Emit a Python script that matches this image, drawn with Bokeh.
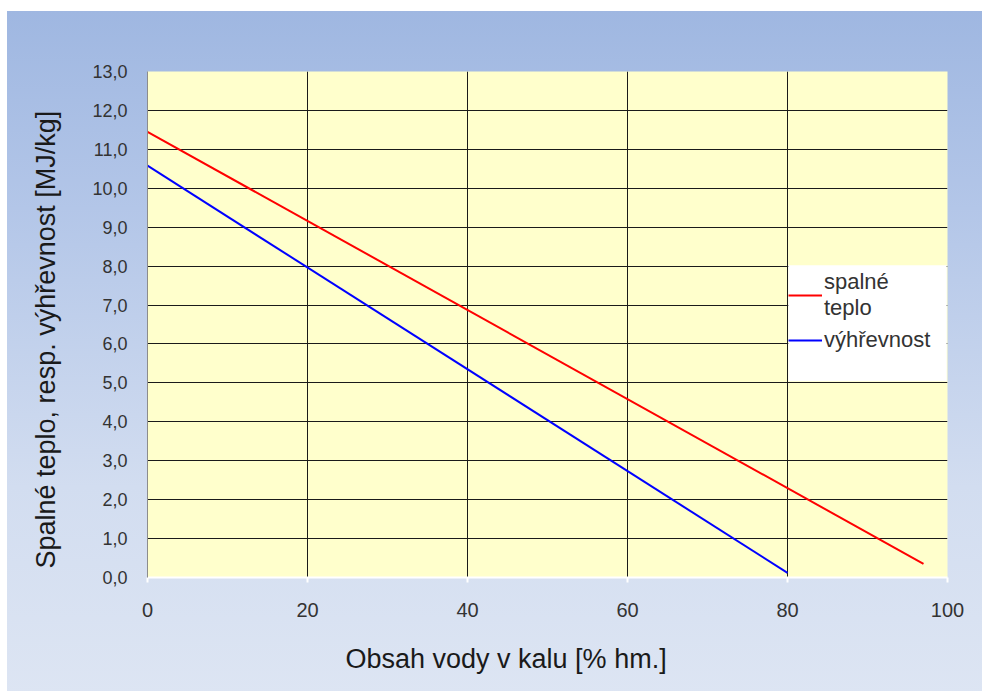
from bokeh.plotting import figure
from bokeh.models import FixedTicker, Legend, LegendItem, Range1d, Title, BoxAnnotation
from bokeh.embed import file_html
from bokeh.resources import INLINE

# data
water_red = [0, 97]
heat_red = [11.45, 0.35]      # spalné teplo
water_blue = [0, 80]
heat_blue = [10.58, 0.12]     # výhřevnost

x_ticks = [0, 20, 40, 60, 80, 100]
y_ticks = list(range(0, 14))
y_tick_labels = ["0,0", "1,0", "2,0", "3,0", "4,0", "5,0", "6,0", "7,0",
                 "8,0", "9,0", "10,0", "11,0", "12,0", "13,0"]
x_title = "Obsah vody v kalu [% hm.]"
y_title = "Spalné teplo, resp. výhřevnost [MJ/kg]"

FONT = "Liberation Sans"

p = figure(frame_width=800, frame_height=506,
           min_border_left=147, min_border_top=71, min_border_right=35, min_border_bottom=114,
           x_range=Range1d(0, 100), y_range=Range1d(0, 13),
           output_backend="svg", toolbar_location=None)

p.styles = {"background": ("linear-gradient(to right, #ffffff 0px, #ffffff 7px, rgba(255,255,255,0) 7px), "
                           "linear-gradient(to bottom, #ffffff 0px, #ffffff 11px, #9fb7e1 11px, "
                           "#b3c6e8 30%, #d2ddf0 70%, #dde5f3 100%)")}
p.border_fill_color = None
p.background_fill_color = "#ffffcc"
p.outline_line_color = None

p.xaxis.ticker = FixedTicker(ticks=x_ticks)
p.yaxis.ticker = FixedTicker(ticks=y_ticks)
p.yaxis.major_label_overrides = {t: l for t, l in zip(y_ticks, y_tick_labels)}

p.xgrid.grid_line_color = "#1a1a1a"
p.ygrid.grid_line_color = "#1a1a1a"
p.xgrid.grid_line_width = 1
p.ygrid.grid_line_width = 1

p.xaxis.axis_line_color = "white"
p.xaxis.axis_line_width = 2
p.xaxis.major_tick_line_color = "white"
p.xaxis.major_tick_line_width = 2
p.xaxis.major_tick_out = 5
p.xaxis.major_tick_in = 0
p.xaxis.minor_tick_line_color = None
p.xaxis.major_label_standoff = 20
p.xaxis.major_label_text_font = FONT
p.xaxis.major_label_text_font_size = "20px"
p.xaxis.major_label_text_color = "#333333"

p.yaxis.axis_line_color = "#8c8c8c"
p.yaxis.major_tick_line_color = None
p.yaxis.minor_tick_line_color = None
p.yaxis.major_label_standoff = 14
p.yaxis.major_label_text_font = FONT
p.yaxis.major_label_text_font_size = "18px"
p.yaxis.major_label_text_color = "#333333"

xt = Title(text=x_title, align="left", offset=198, standoff=44,
           text_font=FONT, text_font_size="27px", text_font_style="normal", text_color="#1a1a1a")
p.add_layout(xt, "below")
yt = Title(text=y_title, align="left", offset=9, standoff=54, vertical_align="top",
           text_font=FONT, text_font_size="27px", text_font_style="normal", text_color="#1a1a1a")
p.add_layout(yt, "left")

r_red = p.line(water_red, heat_red, line_color="#ff0000", line_width=2)
r_blue = p.line(water_blue, heat_blue, line_color="#0000ff", line_width=2)

legend_box = BoxAnnotation(left=80.1, right=99.9, bottom=5.04, top=8.02,
                           fill_color="white", fill_alpha=1, line_color=None)
p.add_layout(legend_box)

legend = Legend(items=[LegendItem(label="spalné\nteplo", renderers=[r_red]),
                       LegendItem(label="výhřevnost", renderers=[r_blue])],
                location=(641, 224))
legend.background_fill_alpha = 0
legend.border_line_color = None
legend.label_text_font = FONT
legend.label_text_font_size = "22px"
legend.label_text_color = "#333333"
legend.glyph_width = 34
legend.label_standoff = 2
legend.padding = 9
legend.spacing = 6
p.add_layout(legend, "center")

open("out.html", "w").write(file_html(p, INLINE))
